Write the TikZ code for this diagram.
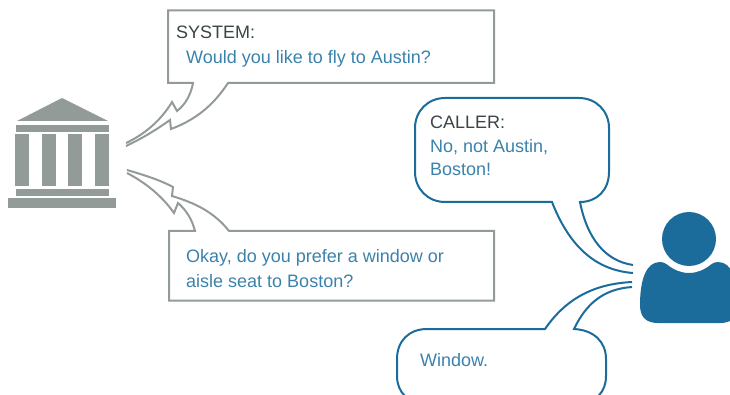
\documentclass[tikz,border=0pt]{standalone}
\usepackage{fontspec}
\setmainfont{Liberation Sans}
\definecolor{bankgray}{HTML}{939B99}
\definecolor{callblue}{HTML}{1B6C9A}
\definecolor{saytext}{HTML}{3A82AB}
\definecolor{whotext}{HTML}{3A4446}
\begin{document}
\begin{tikzpicture}[
  x=1pt,y=-1pt,
  font=\fontsize{18}{22}\selectfont,
  sysline/.style={draw=bankgray,line width=2pt,line join=miter},
  callline/.style={draw=callblue,line width=2pt,line join=miter},
  bankpart/.style={fill=bankgray},
  who/.style={anchor=base west,text=whotext,inner sep=0pt},
  say/.style={anchor=base west,text=saytext,inner sep=0pt}
]
\useasboundingbox (0,0) rectangle (730,395);
\fill[bankpart] (62,98) -- (108,121) -- (17,121) -- cycle;
\fill[bankpart] (16,125) rectangle (109,132.5);
\fill[bankpart] (15,134) rectangle (29,186);
\fill[bankpart] (42,134) rectangle (56,186);
\fill[bankpart] (68,134) rectangle (82,186);
\fill[bankpart] (95,134) rectangle (109,186);
\fill[bankpart] (16,189) rectangle (109,196);
\fill[bankpart] (8,198) rectangle (116,208);
\draw[sysline] (126,143)
  .. controls (143,135) and (160,122) .. (172,102)
  -- (177,111)
  .. controls (186,104) and (191,94) .. (193,83)
  -- (168,83) -- (168,10.5) -- (494,10.5) -- (494,83) -- (228,83)
  .. controls (213,106) and (195,120) .. (171,129)
  -- (170,120)
  .. controls (156,130) and (141,139) .. (126,146);
\draw[sysline] (127,173)
  .. controls (146,183) and (162,196) .. (174,213)
  -- (178,203)
  .. controls (186,210) and (192,219) .. (195,231)
  -- (169,231) -- (169,300.5) -- (494,300.5) -- (494,231) -- (229,231)
  .. controls (214,212) and (195,203) .. (172,196)
  -- (173,187)
  .. controls (160,180) and (144,175) .. (127,170);
\draw[callline] (633,273)
  .. controls (593,270) and (568,243) .. (552,202)
  -- (445,202)
  .. controls (428,202) and (415,189) .. (415,172)
  -- (415,128)
  .. controls (415,111) and (428,98) .. (445,98)
  -- (579,98)
  .. controls (596,98) and (609,111) .. (609,128)
  -- (609,172)
  .. controls (609,190) and (597,202) .. (580,202)
  .. controls (587,238) and (605,261) .. (633,265);
\draw[callline] (632,282)
  .. controls (592,284) and (565,300) .. (545,329)
  -- (427,329)
  .. controls (409,329) and (397,341) .. (397,359)
  -- (397,376)
  .. controls (397,392) and (408,404) .. (427,404)
  -- (580,404)
  .. controls (596,402) and (606,392) .. (606,376)
  -- (606,359)
  .. controls (606,342) and (594,330) .. (574,329)
  .. controls (586,304) and (603,289) .. (632,287);
\fill[callblue] (689,239) circle (27);
\begin{scope}
\clip (630,255) rectangle (730,330);
\fill[callblue] (667,264.5)
  .. controls (674,270) and (681,273) .. (689,273)
  .. controls (697,273) and (704,270) .. (711,264.5)
  .. controls (714,262.5) and (716,262) .. (718,262)
  .. controls (732,262) and (738,280) .. (738,305)
  .. controls (738,317) and (732,323) .. (720,323)
  -- (658,323)
  .. controls (646,323) and (640,317) .. (640,305)
  .. controls (640,280) and (646,262) .. (660,262)
  .. controls (662,262) and (664,262.5) .. (667,264.5) -- cycle;
\end{scope}
\node[who] (syshead) at (176,38.5) {SYSTEM:};
\node[say] (sysask) at (186,64) {Would you like to fly to Austin?};
\node[say] (sysokay) at (186,262.5) {Okay, do you prefer a window or};
\node[say] (sysseat) at (186,287) {aisle seat to Boston?};
\node[who] (callhead) at (430,128.5) {CALLER:};
\node[say] (callno) at (430,153) {No, not Austin,};
\node[say] (callcity) at (430,176) {Boston!};
\node[say] (callwin) at (420,366) {Window.};
\end{tikzpicture}
\end{document}
